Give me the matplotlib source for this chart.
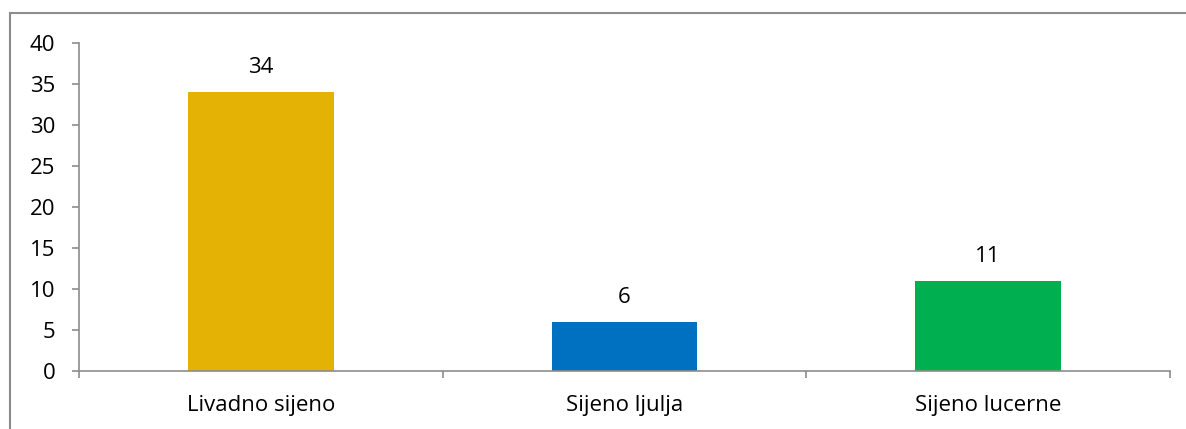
import matplotlib.pyplot as plt
from matplotlib.patches import Rectangle

categories = ["Livadno sijeno", "Sijeno ljulja", "Sijeno lucerne"]
values = [34, 6, 11]
colors = ["#E3B205", "#0070C0", "#00B050"]
y_ticks = [0, 5, 10, 15, 20, 25, 30, 35, 40]

plt.rcParams['font.family'] = ['Open Sans', 'DejaVu Sans']
grey = "#8C8C8C"
fs = 16

fig = plt.figure(figsize=(11.86, 4.29), dpi=100)
ax = fig.add_axes([79 / 1186, 1 - 371 / 429, (1170 - 79) / 1186, (371 - 43) / 429])

x = range(len(categories))
bars = ax.bar(x, values, width=0.4, color=colors)
for b, v in zip(bars, values):
    ax.annotate(str(v), (b.get_x() + b.get_width() / 2, v), xytext=(0, 10),
                textcoords="offset points", ha="center", va="bottom", fontsize=fs)

ax.set_xlim(-0.5, len(categories) - 0.5)
ax.set_ylim(0, 40)
ax.set_yticks(y_ticks)
ax.set_xticks([i - 0.5 for i in range(len(categories) + 1)])
ax.set_xticklabels([])
ax.set_xticks(list(x), minor=True)
ax.set_xticklabels(categories, minor=True, fontsize=fs)
ax.tick_params(axis="x", which="minor", length=0, pad=17)
ax.tick_params(axis="x", which="major", length=5, color=grey, width=1.2)
ax.tick_params(axis="y", length=5, color=grey, width=1.2, pad=12, labelsize=fs)

for s in ["top", "right"]:
    ax.spines[s].set_visible(False)
for s in ["left", "bottom"]:
    ax.spines[s].set_color(grey)
    ax.spines[s].set_linewidth(1.2)

fig.patches.append(Rectangle((10 / 1186, -0.1), 1.2, 1 - 13 / 429 + 0.1,
                             transform=fig.transFigure, fill=False,
                             edgecolor=grey, linewidth=1.5))

fig.savefig("out.png", dpi=100)
